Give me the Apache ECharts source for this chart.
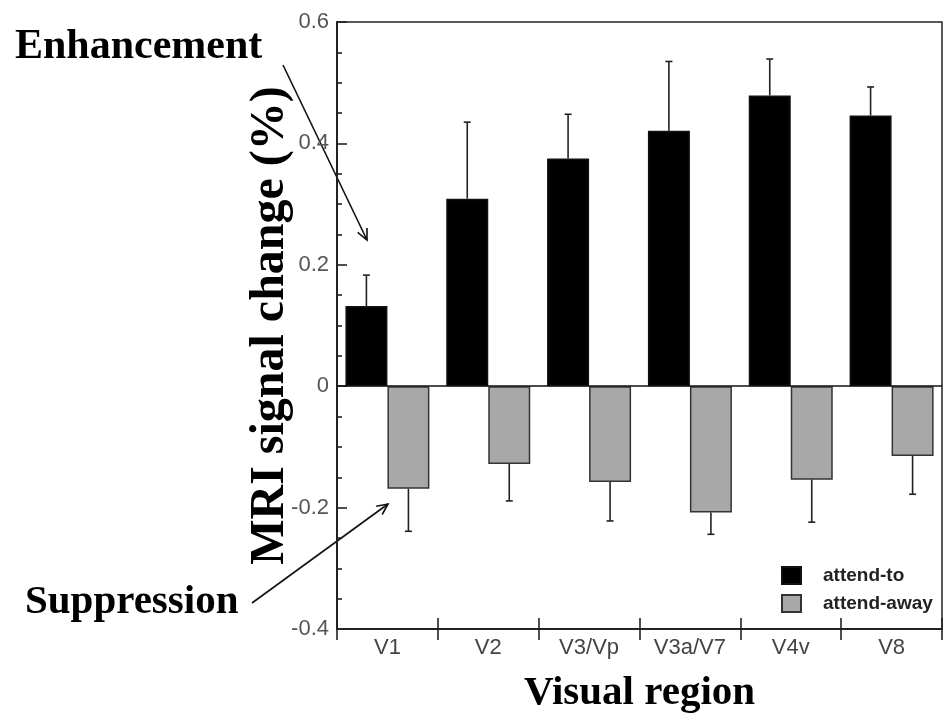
<!DOCTYPE html>
<html>
<head>
<meta charset="utf-8">
<script src="https://cdn.jsdelivr.net/npm/echarts@6/dist/echarts.min.js"></script>
<style>
  html, body { margin: 0; padding: 0; background: #fff; }
  #main { width: 944px; height: 722px; }
</style>
</head>
<body>
<div id="main"></div>
<script>
// data
const categories = ['V1', 'V2', 'V3/Vp', 'V3a/V7', 'V4v', 'V8']
const attendTo = [0.132, 0.309, 0.375, 0.421, 0.479, 0.446]
const attendToErr = [0.051, 0.126, 0.073, 0.114, 0.060, 0.047]
const attendAway = [-0.169, -0.128, -0.158, -0.208, -0.154, -0.115]
const attendAwayErr = [0.070, 0.061, 0.064, 0.036, 0.070, 0.063]
const yTicks = [-0.4, -0.2, 0, 0.2, 0.4, 0.6]

const BAR_W = 42
const serifFont = '"Liberation Serif", "Times New Roman", serif'
const sansFont = '"Liberation Sans", Arial, Helvetica, sans-serif'

// error bar points: [category index, bar value, end of whisker, side]
const errData = []
categories.forEach(function (c, i) {
  errData.push([i, attendTo[i], attendTo[i] + attendToErr[i], -1])
  errData.push([i, attendAway[i], attendAway[i] - attendAwayErr[i], 1])
})

function renderErr (params, api) {
  const side = api.value(3)
  const p0 = api.coord([api.value(0), api.value(1)])
  const p1 = api.coord([api.value(0), api.value(2)])
  const x = p0[0] + side * BAR_W / 2
  const style = { stroke: '#222', lineWidth: 1.6 }
  return {
    type: 'group',
    children: [
      { type: 'line', shape: { x1: x, y1: p0[1], x2: x, y2: p1[1] }, style: style },
      { type: 'line', shape: { x1: x - 3.5, y1: p1[1], x2: x + 3.5, y2: p1[1] }, style: style }
    ]
  }
}

const myChart = echarts.init(document.getElementById('main'))
const option = {
  backgroundColor: '#fff',
  animation: false,
  grid: {
    left: 337,
    right: 2,
    top: 22,
    bottom: 93,
    show: true,
    borderColor: '#222',
    borderWidth: 1.5
  },
  legend: {
    data: ['attend-to', 'attend-away'],
    orient: 'vertical',
    left: 776,
    top: 561,
    itemWidth: 19,
    itemHeight: 17,
    itemGap: 9,
    icon: 'rect',
    textStyle: {
      fontFamily: sansFont,
      fontSize: 19,
      fontWeight: 'bold',
      color: '#222',
      padding: [0, 0, 0, 17]
    }
  },
  xAxis: [
    {
      type: 'category',
      data: categories,
      position: 'bottom',
      name: 'Visual region',
      nameLocation: 'middle',
      nameGap: 44,
      nameMoveOverlap: false,
      nameTextStyle: {
        fontFamily: serifFont,
        fontWeight: 'bold',
        fontSize: 41,
        color: '#000'
      },
      axisLine: { onZero: false, lineStyle: { color: '#222', width: 2 } },
      axisTick: { show: true, length: 11, lineStyle: { color: '#222', width: 1.6 } },
      axisLabel: {
        margin: 8,
        fontFamily: sansFont,
        fontSize: 22,
        color: '#444'
      }
    },
    {
      // upper half of the crossing category ticks, pulled down onto the bottom line
      type: 'category',
      data: categories,
      position: 'top',
      offset: -607,
      axisLine: { show: false, onZero: false },
      axisTick: { show: true, length: 11, lineStyle: { color: '#222', width: 1.6 } },
      axisLabel: { show: false }
    }
  ],
  yAxis: {
    type: 'value',
    min: -0.4,
    max: 0.6,
    interval: 0.2,
    name: 'MRI signal change (%)',
    nameLocation: 'middle',
    nameGap: 42,
    nameMoveOverlap: false,
    nameTextStyle: {
      fontFamily: serifFont,
      fontWeight: 'bold',
      fontSize: 48,
      color: '#000'
    },
    splitLine: { show: false },
    axisLine: { show: true, lineStyle: { color: '#222', width: 2 } },
    axisTick: { show: true, inside: true, length: 10, lineStyle: { color: '#222', width: 1.6 } },
    minorTick: { show: true, splitNumber: 4, length: 5, lineStyle: { color: '#222', width: 1.6 } },
    axisLabel: {
      margin: 8,
      fontFamily: sansFont,
      fontSize: 22,
      color: '#555',
      formatter: function (v) {
        const t = yTicks.find(function (k) { return Math.abs(k - v) < 1e-6 })
        return t === undefined ? '' : String(t)
      }
    }
  },
  series: [
    {
      name: 'attend-to',
      type: 'bar',
      data: attendTo,
      barWidth: BAR_W,
      barGap: '0%',
      itemStyle: { color: '#000', borderColor: '#111', borderWidth: 1.5 },
      markLine: {
        silent: true,
        symbol: 'none',
        label: { show: false },
        lineStyle: { color: '#111', width: 1.5, type: 'solid' },
        data: [{ yAxis: 0 }]
      }
    },
    {
      name: 'attend-away',
      type: 'bar',
      data: attendAway,
      barWidth: BAR_W,
      itemStyle: { color: '#a8a8a8', borderColor: '#333', borderWidth: 1.5 }
    },
    {
      type: 'custom',
      name: 'err',
      xAxisIndex: 1,
      renderItem: renderErr,
      data: errData,
      z: 5
    }
  ],
  graphic: [
    {
      type: 'text',
      left: 15,
      top: 26,
      style: {
        text: 'Enhancement',
        font: 'bold 42px ' + serifFont,
        fill: '#000'
      }
    },
    {
      type: 'text',
      left: 25,
      top: 582,
      style: {
        text: 'Suppression',
        font: 'bold 41px ' + serifFont,
        fill: '#000'
      }
    },
    // arrows
    { type: 'line', shape: { x1: 283, y1: 65, x2: 367, y2: 240 }, style: { stroke: '#111', lineWidth: 1.6 } },
    { type: 'polyline', shape: { points: [[367, 228], [367, 240], [357.7, 232.4]] }, style: { stroke: '#111', lineWidth: 1.6, fill: null } },
    { type: 'line', shape: { x1: 252, y1: 603, x2: 388, y2: 504 }, style: { stroke: '#111', lineWidth: 1.6 } },
    { type: 'polyline', shape: { points: [[376.2, 506.3], [388, 504], [382.2, 514.5]] }, style: { stroke: '#111', lineWidth: 1.6, fill: null } }
  ]
}

myChart.setOption(option)
</script>
</body>
</html>
